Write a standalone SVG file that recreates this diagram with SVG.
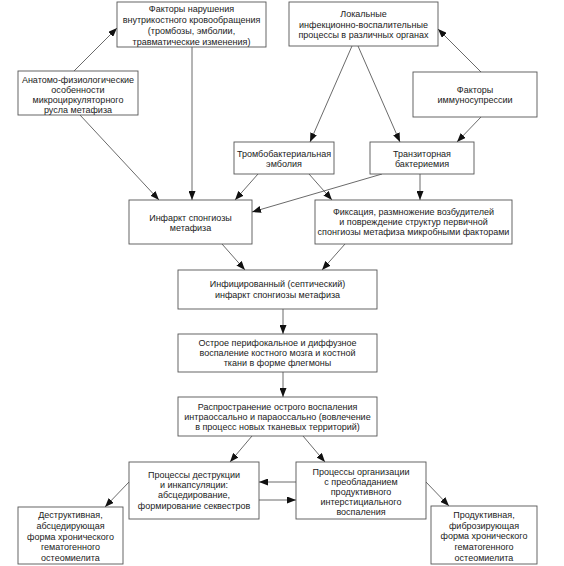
<svg xmlns="http://www.w3.org/2000/svg" width="564" height="566" viewBox="0 0 564 566">
<style>
.box{fill:#fff;stroke:#555;stroke-width:0.9}
.t{font-family:"Liberation Sans",Arial,sans-serif;font-size:9px;fill:#222;text-anchor:middle}
.c{fill:none;stroke:#444;stroke-width:0.8;marker-end:url(#ah)}
</style>
<defs>
<marker id="ah" markerUnits="userSpaceOnUse" markerWidth="9" markerHeight="7" refX="9" refY="3.5" orient="auto">
<path d="M0,0 L9,3.5 L0,7 z" fill="#111"/>
</marker>
</defs>
<rect width="564" height="566" fill="#fff"/>
<g id="connectors">
<line class="c" x1="74" y1="71" x2="117" y2="28"/>
<line class="c" x1="80" y1="115" x2="159" y2="200"/>
<line class="c" x1="192" y1="47" x2="192" y2="200"/>
<line class="c" x1="481" y1="72" x2="438" y2="29"/>
<line class="c" x1="352" y1="46" x2="310" y2="142"/>
<line class="c" x1="358" y1="46" x2="400" y2="142"/>
<line class="c" x1="481" y1="117" x2="457" y2="142"/>
<line class="c" x1="258" y1="174" x2="235" y2="200"/>
<line class="c" x1="309" y1="174" x2="332" y2="200"/>
<line class="c" x1="382" y1="174" x2="252" y2="212"/>
<line class="c" x1="420" y1="174" x2="420" y2="200"/>
<line class="c" x1="222" y1="244" x2="245" y2="270"/>
<line class="c" x1="345" y1="244" x2="322" y2="270"/>
<line class="c" x1="283" y1="309" x2="283" y2="334"/>
<line class="c" x1="283" y1="372" x2="283" y2="397"/>
<line class="c" x1="252" y1="436" x2="230" y2="462"/>
<line class="c" x1="303" y1="436" x2="325" y2="462"/>
<line class="c" x1="296" y1="482" x2="259" y2="482"/>
<line class="c" x1="259" y1="500" x2="296" y2="500"/>
<line class="c" x1="129" y1="482" x2="105" y2="507"/>
<line class="c" x1="426" y1="482" x2="449" y2="506"/>
</g>
<g id="n1">
<rect class="box" x="117" y="2" width="149" height="45"/>
<text class="t" x="191.5" y="11.5">Факторы нарушения</text>
<text class="t" x="191.5" y="22.6">внутрикостного кровообращения</text>
<text class="t" x="191.5" y="33.7">(тромбозы, эмболии,</text>
<text class="t" x="191.5" y="44.8">травматические изменения)</text>
</g>
<g id="n2">
<rect class="box" x="18" y="71" width="120" height="44"/>
<text class="t" x="78" y="83.3">Анатомо-физиологические</text>
<text class="t" x="78" y="93.3">особенности</text>
<text class="t" x="78" y="103.3">микроциркуляторного</text>
<text class="t" x="78" y="113.3">русла метафиза</text>
</g>
<g id="n3">
<rect class="box" x="289" y="2" width="149" height="44"/>
<text class="t" x="363.5" y="17.2">Локальные</text>
<text class="t" x="363.5" y="27.6">инфекционно-воспалительные</text>
<text class="t" x="363.5" y="38">процессы в различных органах</text>
</g>
<g id="n4">
<rect class="box" x="413" y="72" width="124" height="45"/>
<text class="t" x="475" y="92.5">Факторы</text>
<text class="t" x="475" y="102.6">иммуносупрессии</text>
</g>
<g id="n5">
<rect class="box" x="234" y="142" width="100" height="32"/>
<text class="t" x="284" y="157.2">Тромбобактериальная</text>
<text class="t" x="284" y="167">эмболия</text>
</g>
<g id="n6">
<rect class="box" x="370" y="142" width="104" height="32"/>
<text class="t" x="422" y="157.2">Транзиторная</text>
<text class="t" x="422" y="167">бактериемия</text>
</g>
<g id="n7">
<rect class="box" x="129" y="200" width="123" height="44"/>
<text class="t" x="190.5" y="220.5">Инфаркт спонгиозы</text>
<text class="t" x="190.5" y="230.8">метафиза</text>
</g>
<g id="n8">
<rect class="box" x="315" y="200" width="197" height="44"/>
<text class="t" x="413.5" y="214.9">Фиксация, размножение возбудителей</text>
<text class="t" x="413.5" y="224.9">и повреждение структур первичной</text>
<text class="t" x="413.5" y="234.9">спонгиозы метафиза микробными факторами</text>
</g>
<g id="n9">
<rect class="box" x="178" y="270" width="199" height="39"/>
<text class="t" x="277.5" y="287.2">Инфицированный (септический)</text>
<text class="t" x="277.5" y="297.5">инфаркт спонгиозы метафиза</text>
</g>
<g id="n10">
<rect class="box" x="178" y="334" width="199" height="38"/>
<text class="t" x="277.5" y="345.5">Острое перифокальное и диффузное</text>
<text class="t" x="277.5" y="355.9">воспаление костного мозга и костной</text>
<text class="t" x="277.5" y="366">ткани в форме флегмоны</text>
</g>
<g id="n11">
<rect class="box" x="178" y="397" width="199" height="39"/>
<text class="t" x="277.5" y="409.9">Распространение острого  воспаления</text>
<text class="t" x="277.5" y="419.9">интраоссально и параоссально (вовлечение</text>
<text class="t" x="277.5" y="429.9">в процесс новых тканевых территорий)</text>
</g>
<g id="n12">
<rect class="box" x="129" y="462" width="130" height="57"/>
<text class="t" x="194" y="478">Процессы деструкции</text>
<text class="t" x="194" y="488.2">и инкапсуляции:</text>
<text class="t" x="194" y="498.4">абсцедирование,</text>
<text class="t" x="194" y="508.6">формирование секвестров</text>
</g>
<g id="n13">
<rect class="box" x="296" y="462" width="130" height="57"/>
<text class="t" x="361" y="474.9">Процессы организации</text>
<text class="t" x="361" y="484.9">с преобладанием</text>
<text class="t" x="361" y="494.9">продуктивного</text>
<text class="t" x="361" y="504.9">интерстициального</text>
<text class="t" x="361" y="514.9">воспаления</text>
</g>
<g id="n14">
<rect class="box" x="18" y="507" width="105" height="57"/>
<text class="t" x="70.5" y="518.4">Деструктивная,</text>
<text class="t" x="70.5" y="529">абсцедирующая</text>
<text class="t" x="70.5" y="539.6">форма хронического</text>
<text class="t" x="70.5" y="550.2">гематогенного</text>
<text class="t" x="70.5" y="560.8">остеомиелита</text>
</g>
<g id="n15">
<rect class="box" x="431" y="506" width="106" height="58"/>
<text class="t" x="484" y="518.2">Продуктивная,</text>
<text class="t" x="484" y="528.8">фиброзирующая</text>
<text class="t" x="484" y="539.4">форма хронического</text>
<text class="t" x="484" y="550">гематогенного</text>
<text class="t" x="484" y="560.6">остеомиелита</text>
</g>
</svg>
